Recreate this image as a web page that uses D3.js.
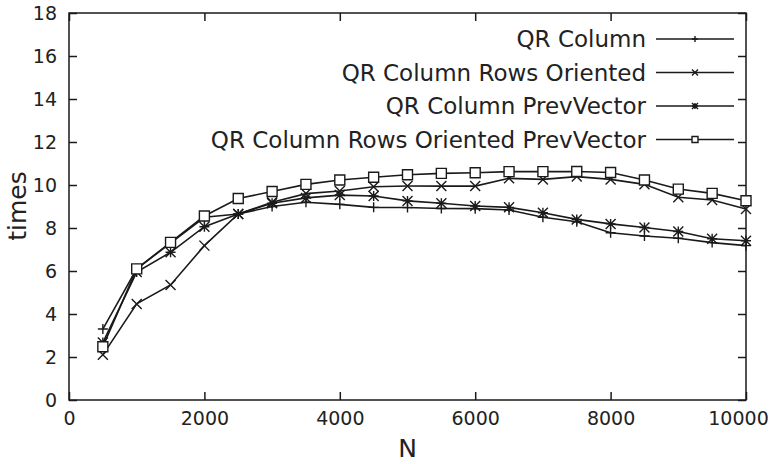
<!DOCTYPE html>
<html><head><meta charset="utf-8">
<script src="https://cdn.jsdelivr.net/npm/d3@7"></script>
<style>body{margin:0;background:#fff}svg{display:block}</style>
</head><body>
<svg id="c" width="780" height="464"></svg>
<script>
const N = [500,1000,1500,2000,2500,3000,3500,4000,4500,5000,5500,6000,6500,7000,7500,8000,8500,9000,9500,10000];
const qrColumn = [3.3,6.1,7.3,8.5,8.65,9.0,9.2,9.1,8.96,8.95,8.91,8.9,8.84,8.5,8.29,7.78,7.63,7.52,7.32,7.18];
const qrRowsOriented = [2.1,4.47,5.35,7.18,8.65,9.2,9.6,9.72,9.92,9.95,9.95,9.95,10.31,10.26,10.39,10.26,10.03,9.43,9.3,8.88];
const qrPrevVector = [2.67,5.95,6.87,8.06,8.65,9.15,9.4,9.53,9.49,9.26,9.15,9.02,8.96,8.71,8.4,8.19,8.02,7.84,7.5,7.41];
const qrRowsPrevVector = [2.48,6.1,7.33,8.56,9.37,9.7,10.03,10.23,10.36,10.48,10.54,10.57,10.62,10.62,10.63,10.58,10.23,9.81,9.61,9.27];
const seriesNames = ["QR Column","QR Column Rows Oriented","QR Column PrevVector","QR Column Rows Oriented PrevVector"];
const markerTypes = ["plus","cross","star","square"];
const xTicks = [0,2000,4000,6000,8000,10000];
const yTicks = [0,2,4,6,8,10,12,14,16,18];

const series = [qrColumn,qrRowsOriented,qrPrevVector,qrRowsPrevVector].map((v,i)=>({name:seriesNames[i],marker:markerTypes[i],values:v}));

const svg = d3.select("#c");
const L=69,R=746,T=13,B=400;
const x = d3.scaleLinear().domain([0,10000]).range([L,R]);
const y = d3.scaleLinear().domain([0,18]).range([B,T]);
const ink = "#1a1a1a";
const font = "DejaVu Sans";

svg.append("rect").attr("x",L).attr("y",T).attr("width",R-L).attr("height",B-T)
  .attr("fill","none").attr("stroke",ink).attr("stroke-width",1.5);

const tl = 8;
const gx = svg.append("g").attr("transform",`translate(0,${B})`)
  .call(d3.axisBottom(x).tickValues(xTicks).tickSizeInner(-tl).tickSizeOuter(0).tickPadding(12).tickFormat(d3.format("d")));
const gxt = svg.append("g").attr("transform",`translate(0,${T})`)
  .call(d3.axisTop(x).tickValues(xTicks).tickSizeInner(-tl).tickSizeOuter(0).tickFormat(""));
const gy = svg.append("g").attr("transform",`translate(${L},0)`)
  .call(d3.axisLeft(y).tickValues(yTicks).tickSizeInner(-tl).tickSizeOuter(0).tickPadding(12));
const gyr = svg.append("g").attr("transform",`translate(${R},0)`)
  .call(d3.axisRight(y).tickValues(yTicks).tickSizeInner(-tl).tickSizeOuter(0).tickFormat(""));
[gx,gxt,gy,gyr].forEach(g=>{
  g.select(".domain").remove();
  g.selectAll(".tick line").attr("stroke",ink).attr("stroke-width",1.5);
  g.selectAll("text").attr("font-family",font).attr("font-size",19).attr("fill","#222");
});
gx.selectAll(".tick text").filter(d=>d===10000).attr("dx",-8);

svg.append("text").attr("x",(L+R)/2).attr("y",457).attr("text-anchor","middle")
  .attr("font-family",font).attr("font-size",25).attr("fill","#222").text("N");
svg.append("text").attr("transform",`translate(26,206) rotate(-90)`).attr("text-anchor","middle")
  .attr("font-family",font).attr("font-size",25).attr("fill","#222").text("times");

function drawMarker(g,type,cx,cy,s){
  const p = d3.path();
  if(type==="plus"||type==="star"){ p.moveTo(cx-s,cy); p.lineTo(cx+s,cy); p.moveTo(cx,cy-s); p.lineTo(cx,cy+s); }
  if(type==="cross"||type==="star"){ p.moveTo(cx-s,cy-s); p.lineTo(cx+s,cy+s); p.moveTo(cx-s,cy+s); p.lineTo(cx+s,cy-s); }
  if(type==="square"){ p.rect(cx-s,cy-s,2*s,2*s); }
  g.append("path").attr("d",p.toString()).attr("fill",type==="square"?"#fff":"none").attr("stroke",ink).attr("stroke-width",1.4);
}

const line = d3.line().x((d,i)=>x(N[i])).y(d=>y(d));
const plot = svg.append("g");
series.forEach(s=>{
  plot.append("path").datum(s.values).attr("d",line).attr("fill","none").attr("stroke",ink).attr("stroke-width",1.6);
});
series.forEach(s=>{
  s.values.forEach((v,i)=>drawMarker(plot,s.marker,x(N[i]),y(v),5));
});

const legX = 646, lineX0 = 656, lineX1 = 734;
series.forEach((s,i)=>{
  const cy = 39 + i*33.5;
  svg.append("text").attr("x",legX).attr("y",cy+8).attr("text-anchor","end")
    .attr("font-family",font).attr("font-size",23).attr("fill","#222").text(s.name);
  svg.append("line").attr("x1",lineX0).attr("x2",lineX1).attr("y1",cy).attr("y2",cy).attr("stroke",ink).attr("stroke-width",1.4);
  drawMarker(svg,s.marker,(lineX0+lineX1)/2,cy,3);
});
</script>
</body></html>
